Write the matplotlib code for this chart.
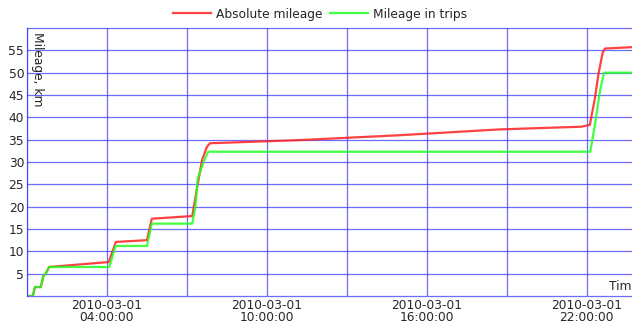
import pandas as pd
import matplotlib
matplotlib.use("Agg")
import matplotlib.pyplot as plt
import matplotlib.dates as mdates

# Odometer readings over one day (2010-03-01), km
day = "2010-03-01 "
abs_times = ["01:00", "01:13", "01:18", "01:31", "01:37", "01:42", "01:50",
             "04:04", "04:09", "04:20", "05:30", "05:41", "07:12", "07:22",
             "07:34", "07:45", "07:52", "11:14", "15:00", "18:44", "21:48",
             "22:07", "22:18", "22:27", "22:36", "22:41", "23:59"]
abs_km = [0.0, 0.0, 2.0, 2.0, 4.5, 5.0, 6.5,
          7.6, 9.0, 12.1, 12.5, 17.3, 17.9, 23.7,
          30.4, 33.4, 34.2, 34.9, 36.0, 37.3, 37.9,
          38.3, 44.0, 50.0, 54.5, 55.4, 55.8]

trip_times = ["01:00", "01:13", "01:18", "01:31", "01:37", "01:42", "01:50",
              "04:05", "04:10", "04:19", "05:30", "05:41", "07:12", "07:19",
              "07:24", "07:36", "07:48", "22:08", "22:18", "22:30", "22:39",
              "23:59"]
trip_km = [0.0, 0.0, 2.0, 2.0, 4.5, 5.0, 6.5,
           6.5, 8.0, 11.2, 11.2, 16.2, 16.2, 20.0,
           26.0, 29.7, 32.3, 32.3, 38.0, 46.0, 50.0,
           50.0]

abs_t = pd.to_datetime([day + t for t in abs_times])
trip_t = pd.to_datetime([day + t for t in trip_times])

txt = "#262626"
grid_c = "#3c3cff"
fs = 8.8

fig = plt.figure(figsize=(6.32, 3.24), dpi=100)
ax = fig.add_axes([27 / 632, 28 / 324, 613 / 632, 268 / 324])

ax.plot(abs_t, abs_km, color="#ff2020", lw=1.6, alpha=0.85, label="Absolute mileage")
ax.plot(trip_t, trip_km, color="#20ff20", lw=1.6, alpha=0.85, label="Mileage in trips")

ax.set_xlim(pd.Timestamp(day + "01:00"), pd.Timestamp(day + "23:59:59"))
ax.set_ylim(0, 60)

ax.xaxis.set_major_locator(mdates.HourLocator(byhour=[4, 10, 16, 22]))
ax.xaxis.set_minor_locator(mdates.HourLocator(byhour=[1, 7, 13, 19]))
ax.xaxis.set_major_formatter(mdates.DateFormatter("%Y-%m-%d\n%H:%M:%S"))
ax.set_yticks(range(5, 60, 5))

ax.tick_params(axis="both", which="both", length=0, labelsize=fs, colors=txt, pad=2)
for lab in ax.get_xticklabels():
    lab.set_linespacing(0.9)
ax.tick_params(axis="y", pad=2)

ax.grid(True, which="both", color=grid_c, lw=0.9, alpha=0.75)
ax.set_axisbelow(True)
for s in ax.spines.values():
    s.set_color(grid_c)
    s.set_linewidth(0.9)
    s.set_alpha(0.75)

ax.text(0.006, 0.985, "Mileage, km", rotation=270, ha="left", va="top",
        transform=ax.transAxes, fontsize=fs, color=txt)
ax.text(0.998, 0.012, "Time", ha="right", va="bottom",
        transform=ax.transAxes, fontsize=fs, color=txt)

fig.legend(loc="upper center", bbox_to_anchor=(0.506, 1.01), ncol=2, frameon=False,
           fontsize=fs, handlelength=3.1, handletextpad=0.4, columnspacing=0.65,
           labelcolor=txt)

fig.savefig("out.png", dpi=100)
